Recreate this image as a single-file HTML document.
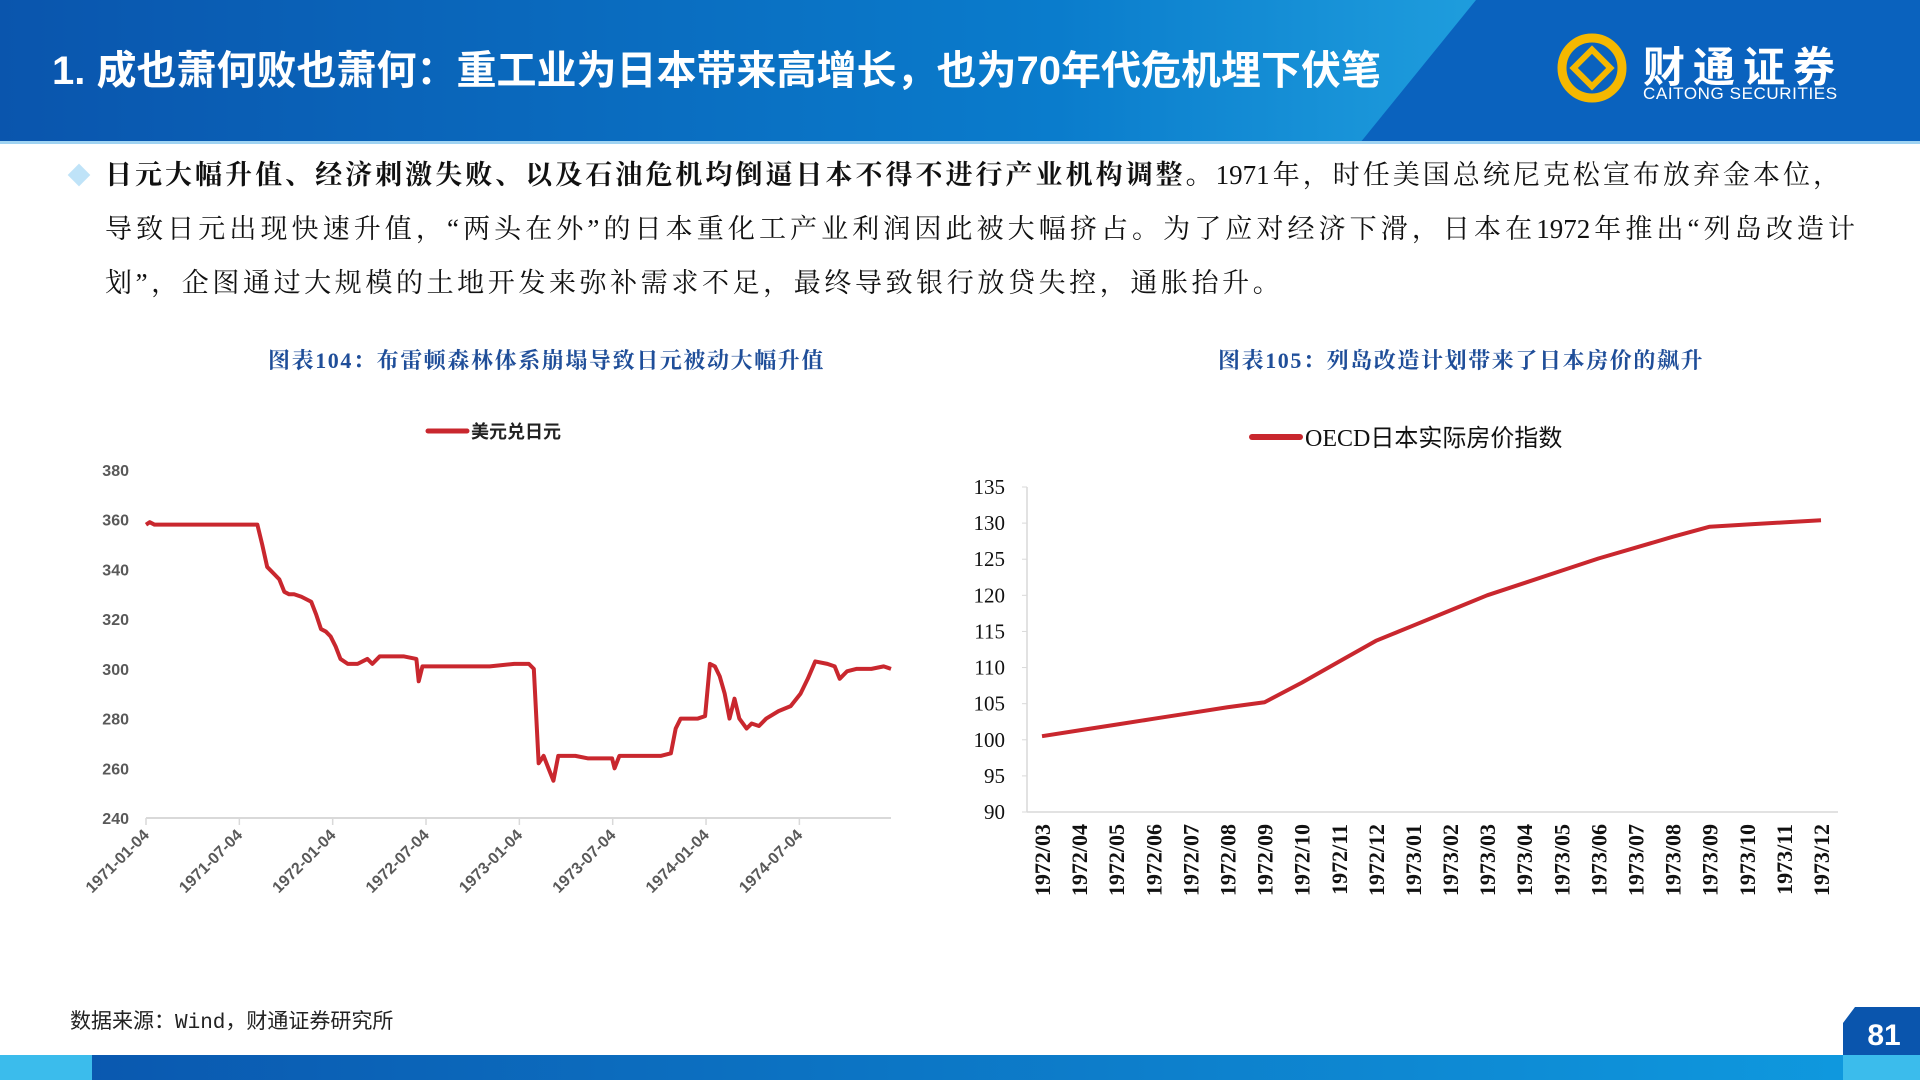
<!DOCTYPE html>
<html><head><meta charset="utf-8">
<style>
body{margin:0;width:1920px;height:1080px;overflow:hidden;background:#fff;font-family:"Liberation Sans","Noto Sans CJK SC",sans-serif;position:relative}
.abs{position:absolute}
.ln{position:absolute;left:105px;font-family:"Liberation Serif","Noto Serif CJK SC",serif;font-size:27px;color:#111;line-height:40px;white-space:nowrap;text-align:justify;text-align-last:justify}
</style></head><body>
<svg class="abs" style="left:0;top:0" width="1920" height="145">
<defs><linearGradient id="hg" x1="0" x2="1"><stop offset="0" stop-color="#0a55ad"/><stop offset="0.55" stop-color="#0a7ccc"/><stop offset="1" stop-color="#34c0ef"/></linearGradient></defs>
<rect width="1920" height="143" fill="url(#hg)"/>
<polygon points="1476,0 1920,0 1920,143 1360,143" fill="#0a62be"/>
<rect y="141" width="1920" height="3" fill="#9fd3f2"/>
</svg>
<div class="abs" style="left:52px;top:38px;font-size:40px;font-weight:bold;color:#fff">1. 成也萧何败也萧何：重工业为日本带来高增长，也为70年代危机埋下伏笔</div>
<svg class="abs" style="left:1555px;top:30px" width="80" height="80">
<circle cx="37" cy="38" r="30" fill="none" stroke="#f5b800" stroke-width="9"/><rect x="24" y="25" width="26" height="26" transform="rotate(45 37 38)" fill="#0a62be" stroke="#f5b800" stroke-width="6"/></svg>
<div class="abs" style="left:1643px;top:34px;color:#fff;font-size:42px;font-weight:bold;letter-spacing:8px">财通证券</div>
<div class="abs" style="left:1643px;top:84px;color:#fff;font-size:17px;letter-spacing:0.6px">CAITONG SECURITIES</div>
<div class="abs" style="left:71px;top:167px;width:16px;height:16px;background:#bfe3f8;transform:rotate(45deg)"></div>
<div>
<div class="ln" style="top:155px;width:1735px"><b>日元大幅升值、经济刺激失败、以及石油危机均倒逼日本不得不进行产业机构调整。</b>1971年，时任美国总统尼克松宣布放弃金本位，</div>
<div class="ln" style="top:209px;width:1750px">导致日元出现快速升值，“两头在外”的日本重化工产业利润因此被大幅挤占。为了应对经济下滑，日本在1972年推出“列岛改造计</div>
<div class="ln" style="top:263px;text-align-last:left;letter-spacing:3.6px">划”，企图通过大规模的土地开发来弥补需求不足，最终导致银行放贷失控，通胀抬升。</div>
</div>
<div class="abs" style="left:268px;top:344px;font-size:22px;letter-spacing:1.6px;font-weight:bold;color:#1f4e99;font-family:'Liberation Serif','Noto Serif CJK SC',serif">图表104：布雷顿森林体系崩塌导致日元被动大幅升值</div>
<div class="abs" style="left:1218px;top:344px;font-size:22px;letter-spacing:1.6px;font-weight:bold;color:#1f4e99;font-family:'Liberation Serif','Noto Serif CJK SC',serif">图表105：列岛改造计划带来了日本房价的飙升</div>
<svg id="c1" class="abs" style="left:0;top:0" width="960" height="1000"></svg>
<svg id="c2" class="abs" style="left:0;top:0" width="1920" height="1000"></svg>
<div class="abs" style="left:70px;top:1005px;font-size:21px;color:#222;font-family:'Liberation Mono','Noto Sans CJK SC',monospace">数据来源：Wind，财通证券研究所</div>
<svg class="abs" style="left:0;top:1005px" width="1920" height="75">
<defs><linearGradient id="fg" x1="0" x2="1"><stop offset="0" stop-color="#0a55ad"/><stop offset="1" stop-color="#0f9be0"/></linearGradient></defs>
<rect y="50" width="1920" height="25" fill="url(#fg)"/><rect y="50" width="92" height="25" fill="#3bbcec"/><rect x="1843" y="50" width="77" height="25" fill="#3bbcec"/>
<polygon points="1855,2 1920,2 1920,50 1843,50 1843,18" fill="#0a55ad"/>
<text x="1884" y="40" text-anchor="middle" fill="#fff" font-size="30" font-weight="bold" font-family="Liberation Sans">81</text>
</svg>
<script>
const NS='http://www.w3.org/2000/svg';
function mk(svg,tag,a,txt){const e=document.createElementNS(NS,tag);for(const k in a)e.setAttribute(k,a[k]);if(txt!==undefined)e.textContent=txt;svg.appendChild(e);return e;}
// chart 1 data
const fxMonths=[0,0.24,0.55,7.16,7.47,7.79,8.26,8.57,8.89,9.2,9.52,9.99,10.62,10.93,11.25,11.56,11.87,12.19,12.5,12.97,13.6,14.23,14.55,15.02,16.59,17.38,17.53,17.77,18.95,22.1,23.67,24.61,24.93,25.24,25.56,25.87,26.19,26.5,27.6,28.39,29.18,29.96,30.12,30.43,31.53,33.11,33.74,34.05,34.37,35.47,35.94,36.25,36.57,36.88,37.2,37.51,37.83,38.14,38.61,38.93,39.4,39.87,40.66,41.44,42.07,42.54,43.02,43.8,44.27,44.59,45.06,45.69,46.63,47.42,47.89];
const fxValues=[358,359,358,358,350,341,338,336,331,330,330,329,327,322,316,315,313,309,304,302,302,304,302,305,305,304,295,301,301,301,302,302,300,262,265,260,255,265,265,264,264,264,260,265,265,265,266,276,280,280,281,302,301,297,290,280,288,280,276,278,277,280,283,285,290,296,303,302,301,296,299,300,300,301,300];
const fxTicks=[240,260,280,300,320,340,360,380];
const fxXTicks=['1971-01-04','1971-07-04','1972-01-04','1972-07-04','1973-01-04','1973-07-04','1974-01-04','1974-07-04'];
const fxXTickMonths=[0,6,12,18,24,30,36,42];
(function(){
const s=document.getElementById('c1');
const x=m=>146+m/47.89*745, y=v=>818-(v-240)/140*348;
fxTicks.forEach(t=>{const e=mk(s,'text',{x:129,y:y(t)+6,'text-anchor':'end','font-size':16,'font-weight':'bold',fill:'#595959','font-family':'Liberation Sans'},t);

});
const ax=mk(s,'line',{x1:146,x2:891,y1:818,y2:818,stroke:'#d9d9d9','stroke-width':2});


fxXTickMonths.forEach((m,i)=>{mk(s,'line',{x1:x(m),x2:x(m),y1:818,y2:825,stroke:'#d9d9d9','stroke-width':1.5});
const e=mk(s,'text',{x:x(m)+4,y:836,'text-anchor':'end','font-size':16,'font-weight':'bold',fill:'#595959','font-family':'Liberation Sans',transform:`rotate(-45 ${x(m)+4} 836)`},fxXTicks[i]);

});
const p=mk(s,'polyline',{points:fxMonths.map((m,i)=>x(m)+','+y(fxValues[i])).join(' '),fill:'none',stroke:'#c9272e','stroke-width':4,'stroke-linejoin':'round'});


const l=mk(s,'line',{x1:428,x2:467,y1:431,y2:431,stroke:'#c9272e','stroke-width':5,'stroke-linecap':'round'});


const lt=mk(s,'text',{x:471,y:438,'font-size':18,'font-weight':'bold',fill:'#222','font-family':'Liberation Sans,Noto Sans CJK SC'},'美元兑日元');


})();
// chart 2 data
const hpCats=['1972/03','1972/04','1972/05','1972/06','1972/07','1972/08','1972/09','1972/10','1972/11','1972/12','1973/01','1973/02','1973/03','1973/04','1973/05','1973/06','1973/07','1973/08','1973/09','1973/10','1973/11','1973/12'];
const hpValues=[100.5,101.3,102.1,102.9,103.7,104.5,105.2,107.9,110.8,113.7,115.8,117.9,120.0,121.7,123.4,125.1,126.6,128.1,129.5,129.8,130.1,130.4];
const hpTicks=[90,95,100,105,110,115,120,125,130,135];
(function(){
const s=document.getElementById('c2');
const x=i=>1042+i*(1821-1042)/21, y=v=>812-(v-90)/45*325;
mk(s,'line',{x1:1027,x2:1027,y1:487,y2:812,stroke:'#d9d9d9','stroke-width':1.5});
mk(s,'line',{x1:1027,x2:1838,y1:812,y2:812,stroke:'#d9d9d9','stroke-width':1.5});
hpTicks.forEach(t=>{mk(s,'line',{x1:1022,x2:1027,y1:y(t),y2:y(t),stroke:'#d9d9d9'});
const e=mk(s,'text',{x:1005,y:y(t)+7,'text-anchor':'end','font-size':21,fill:'#111','font-family':'Liberation Serif'},t);

});
hpCats.forEach((c,i)=>{const e=mk(s,'text',{x:x(i)+8,y:824,'text-anchor':'end','font-size':22,'font-weight':'bold',fill:'#111','font-family':'Liberation Serif',transform:`rotate(-90 ${x(i)+8} 824)`},c);

});
const p=mk(s,'polyline',{points:hpValues.map((v,i)=>x(i)+','+y(v)).join(' '),fill:'none',stroke:'#c9272e','stroke-width':4,'stroke-linejoin':'round'});


const l=mk(s,'line',{x1:1252,x2:1300,y1:437,y2:437,stroke:'#c9272e','stroke-width':6,'stroke-linecap':'round'});


const lt=mk(s,'text',{x:1305,y:446,'font-size':24,fill:'#111','font-family':'Liberation Serif,Noto Sans CJK SC'},'OECD日本实际房价指数');


})();
</script>
</body></html>
